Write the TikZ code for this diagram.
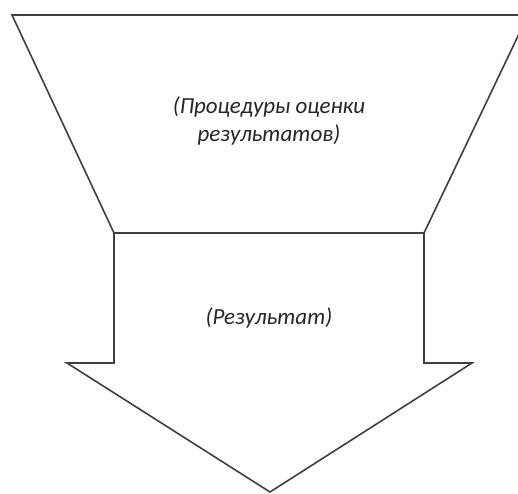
\documentclass[tikz,border=0pt]{standalone}
\usepackage{fontspec}
\setmainfont{Carlito}
\begin{document}
\begin{tikzpicture}[x=1pt,y=-1pt,
  outline/.style={draw=black!75,line width=1.6pt,line join=miter},
  label/.style={font=\fontsize{23}{28}\selectfont\itshape,text=black!85,align=center}]
\useasboundingbox (0,0) rectangle (518,493);
\clip (0,0) rectangle (518,493);
\fill[white] (0,0) rectangle (518,493);
\draw[outline] (12,15) -- (528,15) -- (424,233) -- (114,233) -- cycle;
\draw[outline] (114,233) -- (114,363) -- (67,363) -- (270,492) -- (472,363) -- (424,363) -- (424,233);
\node[label] (proc) at (269,121) {(Процедуры оценки\\результатов)};
\node[label] (res) at (269,318) {(Результат)};
\end{tikzpicture}
\end{document}
